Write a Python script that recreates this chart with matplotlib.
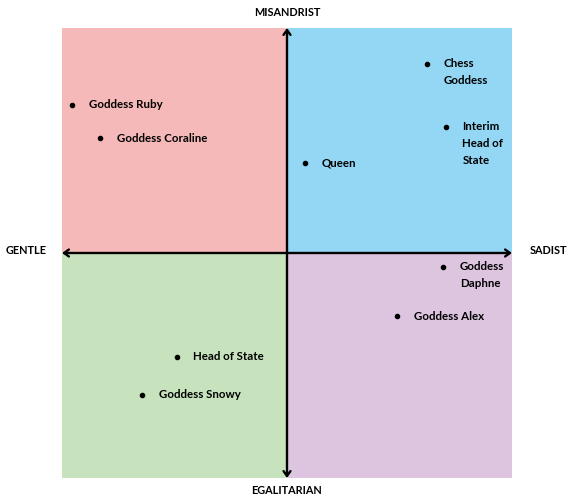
import matplotlib.pyplot as plt
from matplotlib.patches import Rectangle

# points: (label, x, y) on a -10..10 scale
names = ['Goddess Ruby', 'Goddess Coraline', 'Queen', 'Chess\nGoddess',
         'Interim\nHead of\nState', 'Goddess\nDaphne', 'Goddess Alex',
         'Head of State', 'Goddess Snowy']
xs = [-9.55, -8.3, 0.8, 6.2, 7.05, 6.95, 4.9, -4.9, -6.45]
ys = [6.6, 5.1, 4.0, 8.4, 5.6, -0.6, -2.8, -4.6, -6.3]

quad_colors = {'tl': '#F6B9B9', 'tr': '#93D7F5', 'bl': '#C7E3BD', 'br': '#DDC5DF'}

plt.rcParams['font.family'] = ['Lato', 'DejaVu Sans']

fig = plt.figure(figsize=(5.74, 5.01), dpi=100)
ax = fig.add_axes([62 / 574, 1 - 478 / 501, 450 / 574, 450 / 501])
ax.set_xlim(-10, 10)
ax.set_ylim(-10, 10)
ax.axis('off')

# quadrants
ax.add_patch(Rectangle((-10, 0), 10, 10, color=quad_colors['tl'], lw=0))
ax.add_patch(Rectangle((0, 0), 10, 10, color=quad_colors['tr'], lw=0))
ax.add_patch(Rectangle((-10, -10), 10, 10, color=quad_colors['bl'], lw=0))
ax.add_patch(Rectangle((0, -10), 10, 10, color=quad_colors['br'], lw=0))

# axes with arrows
arrow = dict(arrowstyle='<->,head_length=0.35,head_width=0.25', color='black', lw=1.7,
             shrinkA=0, shrinkB=0)
ax.annotate('', xy=(10, 0), xytext=(-10, 0), arrowprops=arrow)
ax.annotate('', xy=(0, 10), xytext=(0, -10), arrowprops=arrow)

# points and labels
for name, x, y in zip(names, xs, ys):
    ax.plot(x, y, 'o', color='black', ms=3)
    nlines = name.count('\n') + 1
    if nlines == 1:
        ax.annotate(name, (x, y), xytext=(12, 0), textcoords='offset points',
                    va='center', ha='left', fontsize=8.3, fontweight='bold')
    else:
        ax.annotate(name, (x, y), xytext=(12, 4), textcoords='offset points',
                    va='top', ha='left', fontsize=8.3, fontweight='bold',
                    linespacing=1.65)

# axis titles
fig.text(287 / 574, 1 - 12 / 501, 'MISANDRIST', ha='center', va='center', fontsize=7.8, fontweight='bold')
fig.text(287 / 574, 1 - 490 / 501, 'EGALITARIAN', ha='center', va='center', fontsize=7.8, fontweight='bold')
fig.text(26 / 574, 1 - 251 / 501, 'GENTLE', ha='center', va='center', fontsize=7.8, fontweight='bold')
fig.text(548 / 574, 1 - 251 / 501, 'SADIST', ha='center', va='center', fontsize=7.8, fontweight='bold')

fig.savefig('out.png', dpi=100, facecolor='white')
